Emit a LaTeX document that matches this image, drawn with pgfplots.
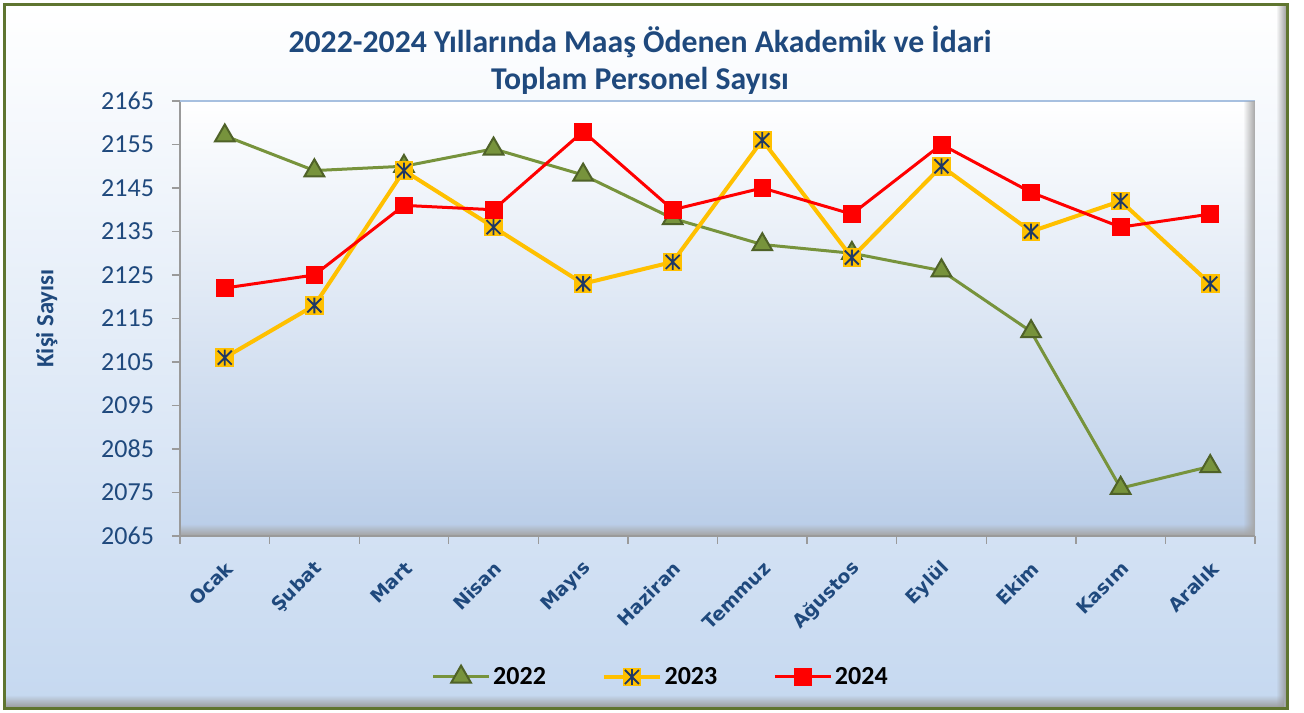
\documentclass[border=0pt]{standalone}
\usepackage{pgfplots}
\pgfplotsset{compat=1.18}
\usepackage{fontspec}
\setmainfont{Carlito}
\newfontfamily\verd{DejaVu Sans}
\usetikzlibrary{fadings}

\definecolor{tcol}{HTML}{1F497D}
\definecolor{c22}{HTML}{77933C}
\definecolor{c22d}{HTML}{4F6228}
\definecolor{c23}{HTML}{FFC000}
\definecolor{starblue}{HTML}{1F3864}
\definecolor{c24}{HTML}{FF0000}
\definecolor{frame}{HTML}{5F7530}
\definecolor{bgout}{HTML}{C5D8F0}
\definecolor{bgin}{HTML}{B9CDE8}
\definecolor{axisgray}{HTML}{9A9A9A}
\definecolor{topline}{HTML}{A7C0E0}

% square with an asterisk, as in the 2023 series
\pgfdeclareplotmark{sqstar}{%
  \pgfpathrectangle{\pgfpoint{-\pgfplotmarksize}{-\pgfplotmarksize}}{\pgfpoint{2\pgfplotmarksize}{2\pgfplotmarksize}}%
  \pgfsetfillcolor{c23}\pgfusepath{fill}%
  \pgfsetstrokecolor{starblue}\pgfsetlinewidth{1.4pt}%
  \pgfpathmoveto{\pgfpoint{0pt}{-0.85\pgfplotmarksize}}\pgfpathlineto{\pgfpoint{0pt}{0.85\pgfplotmarksize}}%
  \pgfpathmoveto{\pgfpoint{-0.75\pgfplotmarksize}{-0.75\pgfplotmarksize}}\pgfpathlineto{\pgfpoint{0.75\pgfplotmarksize}{0.75\pgfplotmarksize}}%
  \pgfpathmoveto{\pgfpoint{-0.75\pgfplotmarksize}{0.75\pgfplotmarksize}}\pgfpathlineto{\pgfpoint{0.75\pgfplotmarksize}{-0.75\pgfplotmarksize}}%
  \pgfusepath{stroke}%
}

\begin{document}
\begin{tikzpicture}[x=0.75pt,y=0.75pt]
\useasboundingbox (0,0) rectangle (1304,713);
% outer frame
\shade[top color=white, bottom color=bgout] (4,4) rectangle (1288,709);
\fill[gray!80, path fading=west] (1276,5) rectangle (1287,708);
\fill[gray!80, path fading=north] (5,5) rectangle (1287,18);
\draw[frame, line width=2.25pt] (4.5,4.5) rectangle (1287.5,708.5);

\node[font=\bfseries\fontsize{23.8}{27.75}\selectfont, text=tcol, align=center] at (640,653)
  {2022-2024 Yıllarında Maaş Ödenen Akademik ve İdari\\Toplam Personel Sayısı};

\begin{axis}[
    at={(135pt,132.75pt)}, anchor=south west,
    scale only axis, width=806.25pt, height=326.25pt,
    xmin=-0.5, xmax=11.5, ymin=2065, ymax=2165,
    axis background/.style={shade, top color=white, bottom color=bgin},
    axis lines*=left,
    axis line style={draw=axisgray, line width=1pt, -},
    ytick={2065,2075,...,2165},
    xtick={0,...,11},
    xticklabels={Ocak,Şubat,Mart,Nisan,Mayıs,Haziran,Temmuz,Ağustos,Eylül,Ekim,Kasım,Aralık},
    minor xtick={-0.5,0.5,...,11.5},
    tick align=outside,
    major tick length=6pt, minor tick length=6pt,
    tick style={draw=axisgray, line width=1pt},
    major x tick style={draw=none},
    /pgf/number format/assume math mode=true,
    /pgf/number format/set thousands separator={},
    yticklabel style={font=\fontsize{19.5}{20}\selectfont, text=tcol, xshift=-10pt},
    xticklabel style={font=\verd\bfseries\fontsize{14}{16}\selectfont, text=tcol,
      xshift=6pt, yshift=-13.5pt, rotate=45, anchor=east},
    ylabel={Kişi Sayısı},
    ylabel style={font=\bfseries\fontsize{18.5}{20}\selectfont, text=tcol, at={(axis description cs:-0.124,0.5)}, anchor=center},
    legend columns=3,
    legend style={at={(axis description cs:0.4474,-0.324)}, anchor=center, draw=none, fill=none,
      font=\bfseries\fontsize{19.5}{20}\selectfont, text=black,
      /tikz/every even column/.append style={column sep=40pt}},
    legend image code/.code={\draw[mark repeat=2, mark phase=2] plot coordinates {(0pt,0pt) (21pt,0pt) (42pt,0pt)};},
    clip=false,
]
\addplot[c22, line width=2.25pt, mark=triangle*, mark size=8.5pt,
  mark options={fill=c22, draw=c22d, line width=1.5pt}] coordinates {
  (0,2157) (1,2149) (2,2150) (3,2154) (4,2148) (5,2138)
  (6,2132) (7,2130) (8,2126) (9,2112) (10,2076) (11,2081)
};
\addlegendentry{2022}
\addplot[c23, line width=3pt, mark=sqstar, mark size=7pt] coordinates {
  (0,2106) (1,2118) (2,2149) (3,2136) (4,2123) (5,2128)
  (6,2156) (7,2129) (8,2150) (9,2135) (10,2142) (11,2123)
};
\addlegendentry{2023}
\addplot[c24, line width=2.25pt, mark=square*, mark size=6.3pt,
  mark options={fill=c24, draw=c24, line width=0.5pt}] coordinates {
  (0,2122) (1,2125) (2,2141) (3,2140) (4,2158) (5,2140)
  (6,2145) (7,2139) (8,2155) (9,2144) (10,2136) (11,2139)
};
\addlegendentry{2024}
\draw[topline, line width=1pt] (rel axis cs:0,1) -- (rel axis cs:1,1);
\end{axis}
% bevel of the plot area
\fill[gray!70, path fading=west] (1243,178) rectangle (1255,612);
\fill[gray!70, path fading=north] (181,178) rectangle (1255,189);
\end{tikzpicture}
\end{document}
